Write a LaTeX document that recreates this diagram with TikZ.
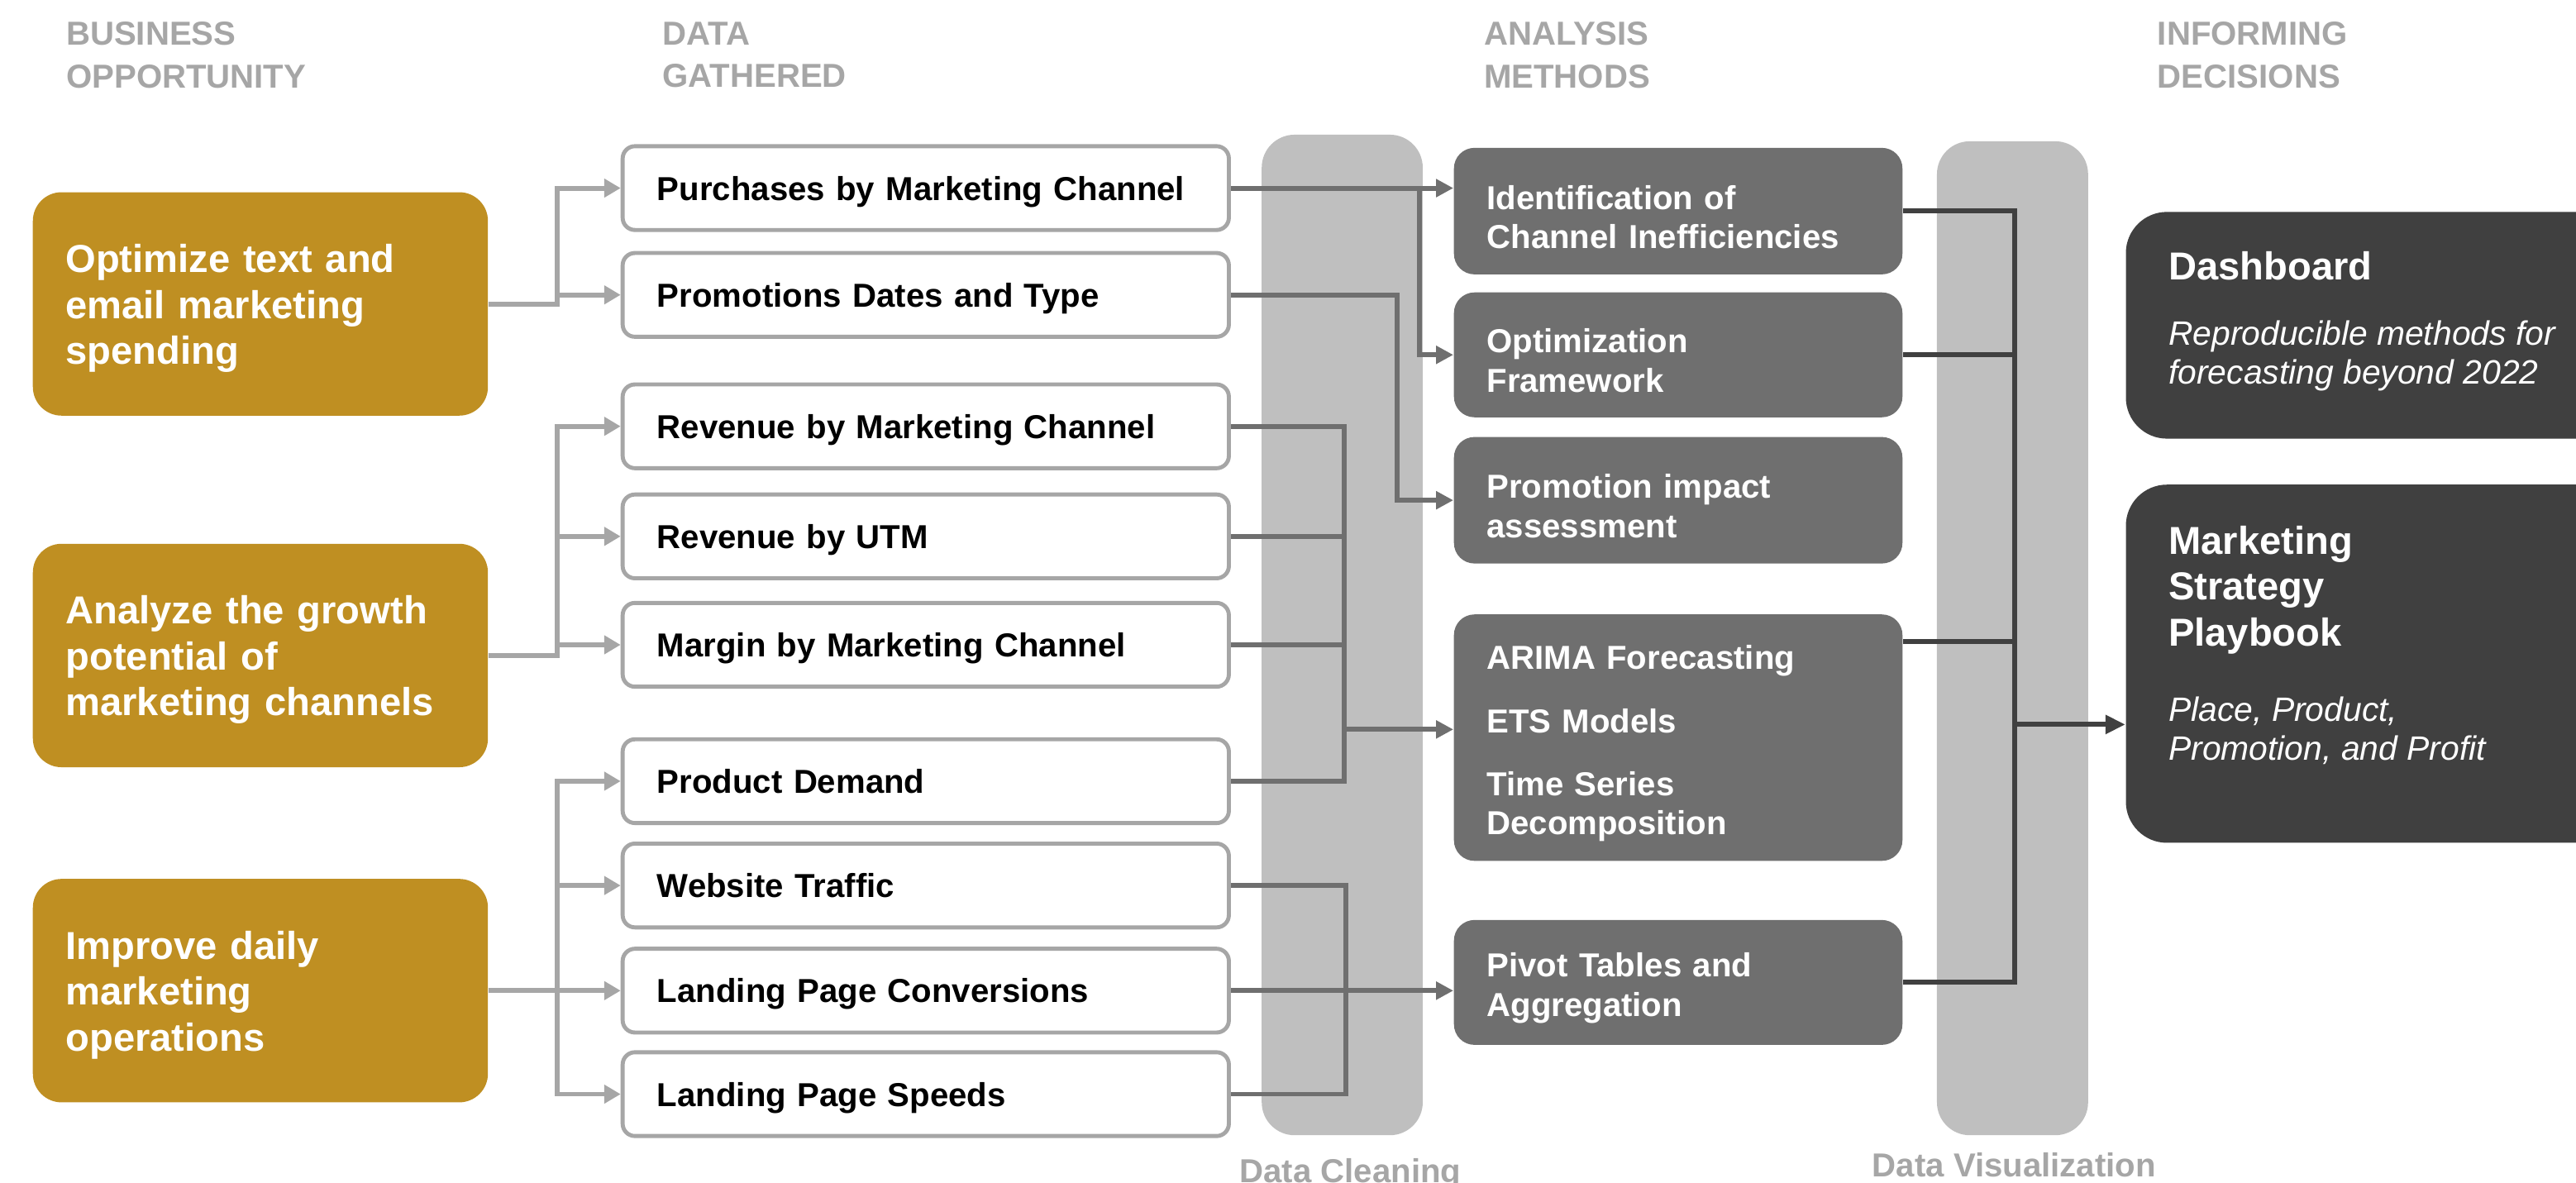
\documentclass[tikz,border=0pt]{standalone}
\usepackage{fontspec}
\setmainfont{Liberation Sans}
\usetikzlibrary{positioning}
\usetikzlibrary{arrows.meta}

\definecolor{oppgold}{HTML}{BF8F22}
\definecolor{headgray}{HTML}{A6A6A6}
\definecolor{bandgray}{HTML}{BFBFBF}
\definecolor{methodgray}{HTML}{6F6F6F}
\definecolor{decisiongray}{HTML}{404040}

\tikzset{
    header/.style={anchor=north west, align=left, text=headgray, font=\fontsize{11.5}{14.8}\selectfont\bfseries},
    bandlbl/.style={anchor=base, text=headgray, font=\fontsize{11.5}{13.8}\selectfont\bfseries},
    opp/.style={fill=oppgold, rounded corners=3.5mm, minimum width=55.4mm, minimum height=27.2mm, text width=47.4mm, align=left, text=white, font=\fontsize{13.5}{15.9}\selectfont\bfseries, execute at begin node={\rule{0pt}{4.5mm}}},
    datum/.style={draw=headgray, line width=1.4pt, fill=white, rounded corners=1.5mm, minimum width=73.8mm, minimum height=10.2mm, text width=65.4mm, text depth=0pt, align=left, font=\fontsize{11.5}{13.8}\selectfont\bfseries},
    band/.style={fill=bandgray, rounded corners=4mm},
    method/.style={fill=methodgray, rounded corners=2.5mm, minimum width=54.6mm, text width=46.6mm, align=left, text=white, font=\fontsize{11.5}{13.6}\selectfont\bfseries, execute at begin node={\rule{0pt}{4.35mm}}},
    decision/.style={fill=decisiongray, rounded corners=5mm, minimum width=63.2mm},
    dtitle/.style={anchor=north west, align=left, text=white, font=\fontsize{13.5}{15.9}\selectfont\bfseries},
    dsub/.style={anchor=north west, align=left, text=white, font=\fontsize{11.7}{13.6}\selectfont\itshape},
    feed/.style={draw=headgray, line width=1.7pt, -{Triangle[length=2mm, width=2.2mm]}},
    wire/.style={draw=methodgray, line width=1.7pt},
    warrow/.style={wire, -{Triangle[length=2.1mm, width=2.1mm]}},
    dwire/.style={draw=decisiongray, line width=1.7pt},
    darrow/.style={dwire, -{Triangle[length=2.4mm, width=2.2mm]}},
}

\begin{document}
\begin{tikzpicture}[x=0.2mm, y=-0.2mm, every node/.style={inner sep=0pt}]

    \clip (0,0) rectangle (1568,720);

    % Column headers
    \node[header] (hopp) at (40,13) {BUSINESS\\OPPORTUNITY};
    \node[header] (hdata) at (403,13) {DATA\\GATHERED};
    \node[header] (hmeth) at (903,13) {ANALYSIS\\METHODS};
    \node[header] (hdec) at (1313,13) {INFORMING\\DECISIONS};

    % Bands
    \node[band, minimum width=19.6mm, minimum height=121.8mm] (clean) at (817,386.5) {};
    \node[band, minimum width=18.4mm, minimum height=121mm] (viz) at (1225,388.5) {};
    \node[bandlbl] (cleanlbl) at (822,720) {Data Cleaning};
    \node[bandlbl] (vizlbl) at (1226,716.5) {Data Visualization};

    % Business opportunities
    \node[opp] (g1) at (158.5,185) {Optimize text and\\email marketing\\spending};
    \node[opp] (g2) at (158.5,399) {Analyze the growth\\potential of\\marketing channels};
    \node[opp] (g3) at (158.5,603) {Improve daily\\marketing\\operations};

    % Data gathered
    \node[datum] (w1) at (563.5,114.5) {Purchases by Marketing Channel};
    \node[datum] (w2) at (563.5,179.5) {Promotions Dates and Type};
    \node[datum] (w3) at (563.5,259.5) {Revenue by Marketing Channel};
    \node[datum] (w4) at (563.5,326.5) {Revenue by UTM};
    \node[datum] (w5) at (563.5,392.5) {Margin by Marketing Channel};
    \node[datum] (w6) at (563.5,475.5) {Product Demand};
    \node[datum] (w7) at (563.5,539) {Website Traffic};
    \node[datum] (w8) at (563.5,603) {Landing Page Conversions};
    \node[datum] (w9) at (563.5,666) {Landing Page Speeds};

    % Analysis methods
    \node[method, minimum height=15.4mm] (m1) at (1021.5,128.5) {Identification of\\Channel Inefficiencies};
    \node[method, minimum height=15.2mm] (m2) at (1021.5,216) {Optimization\\Framework};
    \node[method, minimum height=15.4mm] (m3) at (1021.5,304.5) {Promotion impact\\assessment};
    \node[method, minimum height=30mm] (m4) at (1021.5,449) {ARIMA Forecasting\\[3mm]ETS Models\\[2.8mm]Time Series\\Decomposition};
    \node[method, minimum height=15.2mm] (m5) at (1021.5,598) {Pivot Tables and\\Aggregation};

    % Decisions
    \node[decision, minimum height=27.6mm] (d1) at (1452,198) {};
    \node[decision, minimum height=43.6mm] (d2) at (1452,404) {};
    \node[dtitle] (d1t) at ([shift={(26,24)}]d1.north west) {Dashboard};
    \node[dsub] (d1s) at ([shift={(26,66)}]d1.north west) {Reproducible methods for\\forecasting beyond 2022};
    \node[dtitle] (d2t) at ([shift={(26,25)}]d2.north west) {Marketing\\Strategy\\Playbook};
    \node[dsub] (d2s) at ([shift={(26,129)}]d2.north west) {Place, Product,\\Promotion, and Profit};

    % Opportunities to data
    \draw[feed] (g1.east) -- ++(42,0) |- (w1.west);
    \draw[feed] (g1.east) -- ++(42,0) |- (w2.west);
    \draw[feed] (g2.east) -- ++(42,0) |- (w3.west);
    \draw[feed] (g2.east) -- ++(42,0) |- (w4.west);
    \draw[feed] (g2.east) -- ++(42,0) |- (w5.west);
    \draw[feed] (g3.east) -- ++(42,0) |- (w6.west);
    \draw[feed] (g3.east) -- ++(42,0) |- (w7.west);
    \draw[feed] (g3.east) -- ++(42,0) |- (w8.west);
    \draw[feed] (g3.east) -- ++(42,0) |- (w9.west);

    % Data to methods
    \draw[warrow] (w1.east) -- (w1.east -| m1.west);
    \draw[warrow] (w1.east) -- ++(115,0) |- (m2.west);
    \draw[warrow] (w2.east) -- ++(101,0) |- (m3.west);
    \draw[wire] (w3.east) -- ++(69,0) coordinate (j1) |- (w6.east);
    \draw[wire] (w4.east) -- (w4.east -| j1);
    \draw[wire] (w5.east) -- (w5.east -| j1);
    \draw[warrow] ([yshift=1mm]j1 |- m4.west) -- ([yshift=1mm]m4.west);
    \draw[wire] (w7.east) -- ++(70,0) coordinate (j2) |- (w9.east);
    \draw[warrow] (w8.east) -- (w8.east -| m5.west);

    % Methods to decisions
    \draw[dwire] (m1.east) -- ++(68,0) coordinate (j3) |- (m5.east);
    \draw[dwire] (m2.east) -- (m2.east -| j3);
    \draw[dwire] ([shift={(0,17)}]m4.north east) -- ++(68,0);
    \coordinate (vizout) at (1226,441);
    \draw[darrow] (vizout) -- (vizout -| d2.west);

\end{tikzpicture}
\end{document}
